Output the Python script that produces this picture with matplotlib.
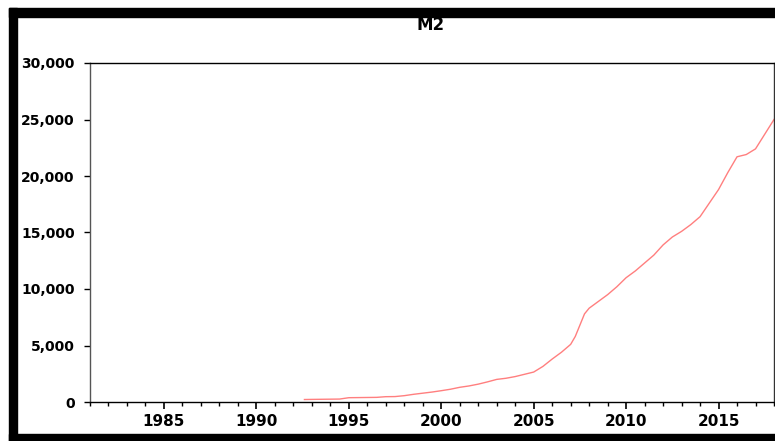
import matplotlib
matplotlib.use("Agg")
import matplotlib.pyplot as plt
from matplotlib.patches import Rectangle
from matplotlib.ticker import FuncFormatter, MultipleLocator

plt.rcParams['font.family'] = ['DejaVu Sans']

# M2 readings (decimal year, value)
years = [1992.6, 1993.0, 1993.5, 1994.0, 1994.5, 1995.0, 1995.5, 1996.0, 1996.5,
         1997.0, 1997.5, 1998.0, 1998.5, 1999.0, 1999.5, 2000.0, 2000.5, 2001.0,
         2001.5, 2002.0, 2002.5, 2003.0, 2003.5, 2004.0, 2004.5, 2005.0, 2005.5,
         2006.0, 2006.5, 2007.0, 2007.25, 2007.5, 2007.75, 2008.0, 2008.5, 2009.0,
         2009.5, 2010.0, 2010.5, 2011.0, 2011.5, 2012.0, 2012.5, 2013.0, 2013.5,
         2014.0, 2014.5, 2015.0, 2015.5, 2016.0, 2016.5, 2017.0, 2017.5, 2018.0]
m2 = [220, 230, 240, 250, 260, 380, 390, 400, 410,
      470, 480, 560, 680, 780, 880, 1000, 1130, 1300,
      1420, 1580, 1780, 2000, 2100, 2250, 2450, 2650, 3150,
      3800, 4400, 5100, 5800, 6800, 7800, 8300, 8900, 9500,
      10200, 11000, 11600, 12300, 13000, 13900, 14600, 15100, 15700,
      16400, 17600, 18800, 20300, 21700, 21900, 22400, 23700, 25000]

x_ticks = [1985, 1990, 1995, 2000, 2005, 2010, 2015]
y_ticks = [0, 5000, 10000, 15000, 20000, 25000, 30000]

fig = plt.figure(figsize=(7.75, 4.41), dpi=100)
W, H = 775, 441
ax = fig.add_axes([90 / W, 1 - 402 / H, (774 - 90) / W, (402 - 63) / H])

ax.plot(years, m2, color='#ff7f7f', linewidth=1.0)

ax.set_xlim(1981, 2018)
ax.set_ylim(0, 30000)
ax.set_xticks(x_ticks)
ax.xaxis.set_minor_locator(MultipleLocator(1))
ax.set_yticks(y_ticks)
ax.yaxis.set_major_formatter(FuncFormatter(lambda v, p: f'{int(v):,}'))

for lab in ax.get_xticklabels():
    lab.set_fontweight('bold')
    lab.set_fontsize(11)
for lab in ax.get_yticklabels():
    lab.set_fontweight('bold')
    lab.set_fontsize(10)

ax.tick_params(axis='x', which='major', direction='out', length=5, width=1.2, pad=4, colors='black')
ax.tick_params(axis='x', which='minor', direction='out', length=3.2, width=1.0, colors='black')
ax.tick_params(axis='y', which='major', direction='out', length=4.5, width=1.0, pad=6.5, colors='black')

ax.spines['left'].set_color('#555555')
ax.spines['right'].set_color('#333333')
ax.spines['top'].set_color('black')
ax.spines['bottom'].set_color('black')
for s in ax.spines.values():
    s.set_linewidth(1.0)

fig.text(431 / W, 1 - 25 / H, 'M2', ha='center', va='center',
         fontsize=12, fontweight='bold')

# heavy black frame around the picture (top, left, bottom)
fig.patches.append(Rectangle((9 / W, 1 - 17 / H), 1 - 9 / W, 9 / H,
                             transform=fig.transFigure, color='black', zorder=5))
fig.patches.append(Rectangle((9 / W, 0), 8 / W, 1 - 8 / H,
                             transform=fig.transFigure, color='black', zorder=5))
fig.patches.append(Rectangle((9 / W, 0), 1 - 9 / W, 7 / H,
                             transform=fig.transFigure, color='black', zorder=5))

fig.savefig('out.png', dpi=100)
